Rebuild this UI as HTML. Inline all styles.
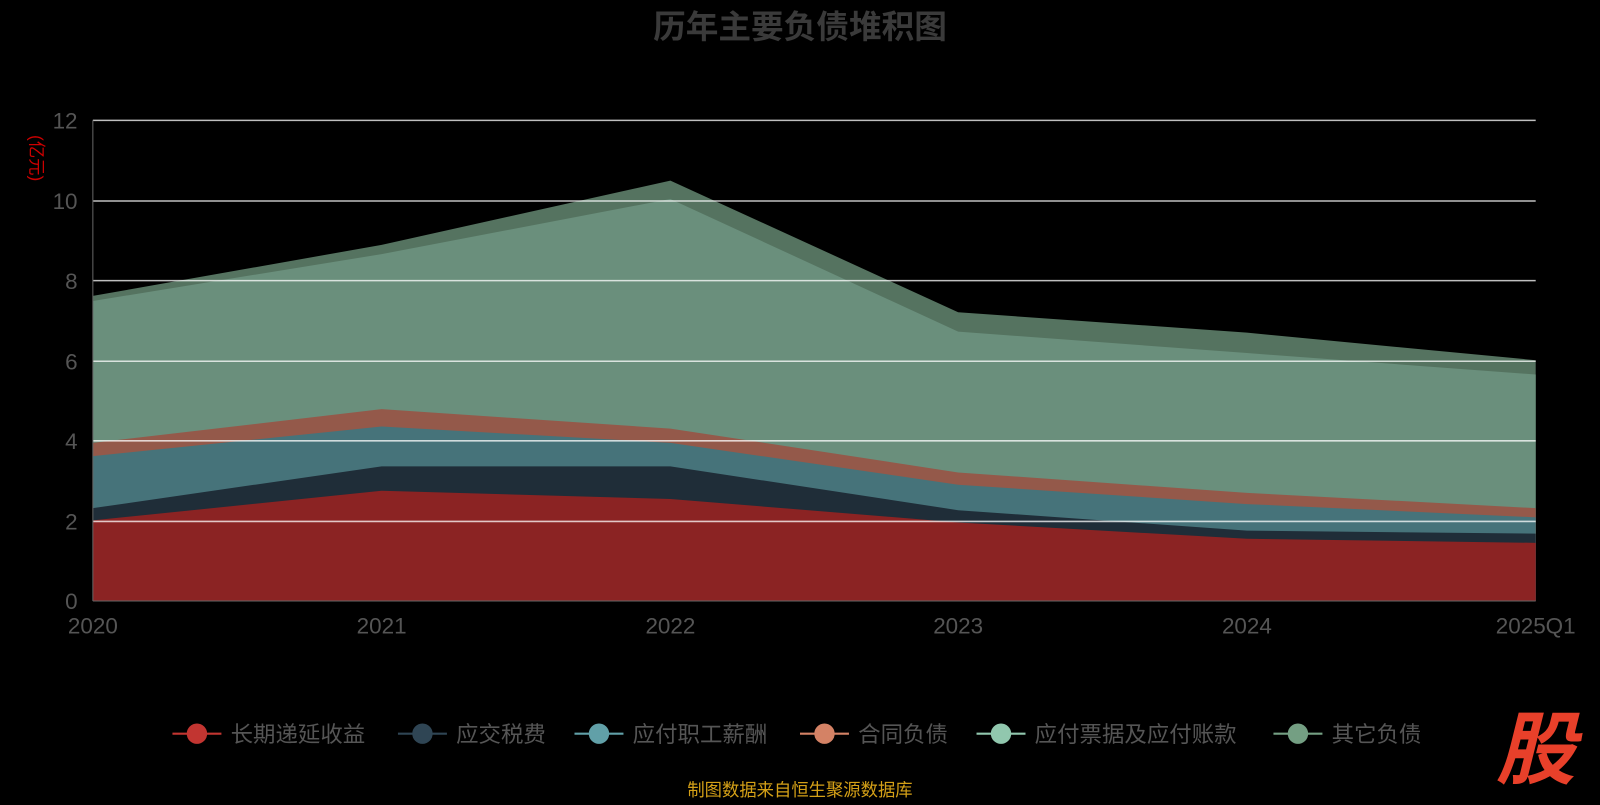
<!DOCTYPE html>
<html><head><meta charset="utf-8"><style>
body{margin:0;background:#000;width:1600px;height:800px;overflow:hidden;font-family:"Liberation Sans","Noto Sans CJK SC",sans-serif;}
</style></head><body>
<svg width="1600" height="800" xmlns="http://www.w3.org/2000/svg" font-family="Liberation Sans, Noto Sans CJK SC, sans-serif">
<rect width="1600" height="800" fill="#000"/>
<g transform="scale(1.0204)">
<text x="784" y="37" text-anchor="middle" font-size="32" font-weight="bold" fill="#3a3a3a">历年主要负债堆积图</text>
<text x="40" y="145" font-size="17" fill="#c00" transform="rotate(90 30 145)" text-anchor="middle">(亿元)</text>
<polygon fill="#557360" points="91,290 374,240 657,177 939,306 1222,326 1505,353 1505,589 91,589"/>
<polygon fill="#6a8f7c" points="91,295 374,249 657,195 939,325 1222,346 1505,367 1505,589 91,589"/>
<polygon fill="#94594a" points="91,434 374,401 657,420 939,463 1222,483 1505,498 1505,589 91,589"/>
<polygon fill="#46737a" points="91,447 374,418 657,434 939,475 1222,494 1505,507 1505,589 91,589"/>
<polygon fill="#1f2d38" points="91,498 374,457 657,457 939,500 1222,520 1505,523 1505,589 91,589"/>
<polygon fill="#8b2323" points="91,510 374,481 657,489 939,512 1222,528 1505,532 1505,589 91,589"/>
<g stroke="#ffffff" stroke-opacity="0.75" stroke-width="1.5">
<line x1="91" y1="118" x2="1505" y2="118"/><line x1="91" y1="197" x2="1505" y2="197"/>
<line x1="91" y1="275" x2="1505" y2="275"/><line x1="91" y1="354" x2="1505" y2="354"/>
<line x1="91" y1="432" x2="1505" y2="432"/><line x1="91" y1="511" x2="1505" y2="511"/>
</g>
<line x1="91" y1="118" x2="91" y2="589" stroke="#666"/>
<line x1="91" y1="589" x2="1505" y2="589" stroke="#666"/>
<g font-size="22" fill="#555" text-anchor="end">
<text x="76" y="126">12</text><text x="76" y="205">10</text><text x="76" y="283">8</text>
<text x="76" y="362">6</text><text x="76" y="440">4</text><text x="76" y="519">2</text><text x="76" y="597">0</text>
</g>
<g font-size="22" fill="#555" text-anchor="middle">
<text x="91" y="621">2020</text><text x="374" y="621">2021</text><text x="657" y="621">2022</text>
<text x="939" y="621">2023</text><text x="1222" y="621">2024</text><text x="1505" y="621">2025Q1</text>
</g>
<g font-size="22" fill="#555">
<line x1="169" y1="719" x2="217" y2="719" stroke="#c23531" stroke-width="2"/><circle cx="193" cy="719" r="10" fill="#c23531"/><text x="226" y="727">长期递延收益</text>
<line x1="390" y1="719" x2="438" y2="719" stroke="#2f4554" stroke-width="2"/><circle cx="414" cy="719" r="10" fill="#2f4554"/><text x="447" y="727">应交税费</text>
<line x1="563" y1="719" x2="611" y2="719" stroke="#61a0a8" stroke-width="2"/><circle cx="587" cy="719" r="10" fill="#61a0a8"/><text x="620" y="727">应付职工薪酬</text>
<line x1="784" y1="719" x2="832" y2="719" stroke="#d48265" stroke-width="2"/><circle cx="808" cy="719" r="10" fill="#d48265"/><text x="841" y="727">合同负债</text>
<line x1="957" y1="719" x2="1005" y2="719" stroke="#91c7ae" stroke-width="2"/><circle cx="981" cy="719" r="10" fill="#91c7ae"/><text x="1014" y="727">应付票据及应付账款</text>
<line x1="1248" y1="719" x2="1296" y2="719" stroke="#749f83" stroke-width="2"/><circle cx="1272" cy="719" r="10" fill="#749f83"/><text x="1305" y="727">其它负债</text>
</g>
<text x="784" y="780" text-anchor="middle" font-size="17" fill="#d4a017">制图数据来自恒生聚源数据库</text>
<text x="1505" y="762" text-anchor="middle" font-size="78" font-weight="bold" font-style="italic" fill="#e8402a">股</text>
</g>
</svg>
</body></html>
